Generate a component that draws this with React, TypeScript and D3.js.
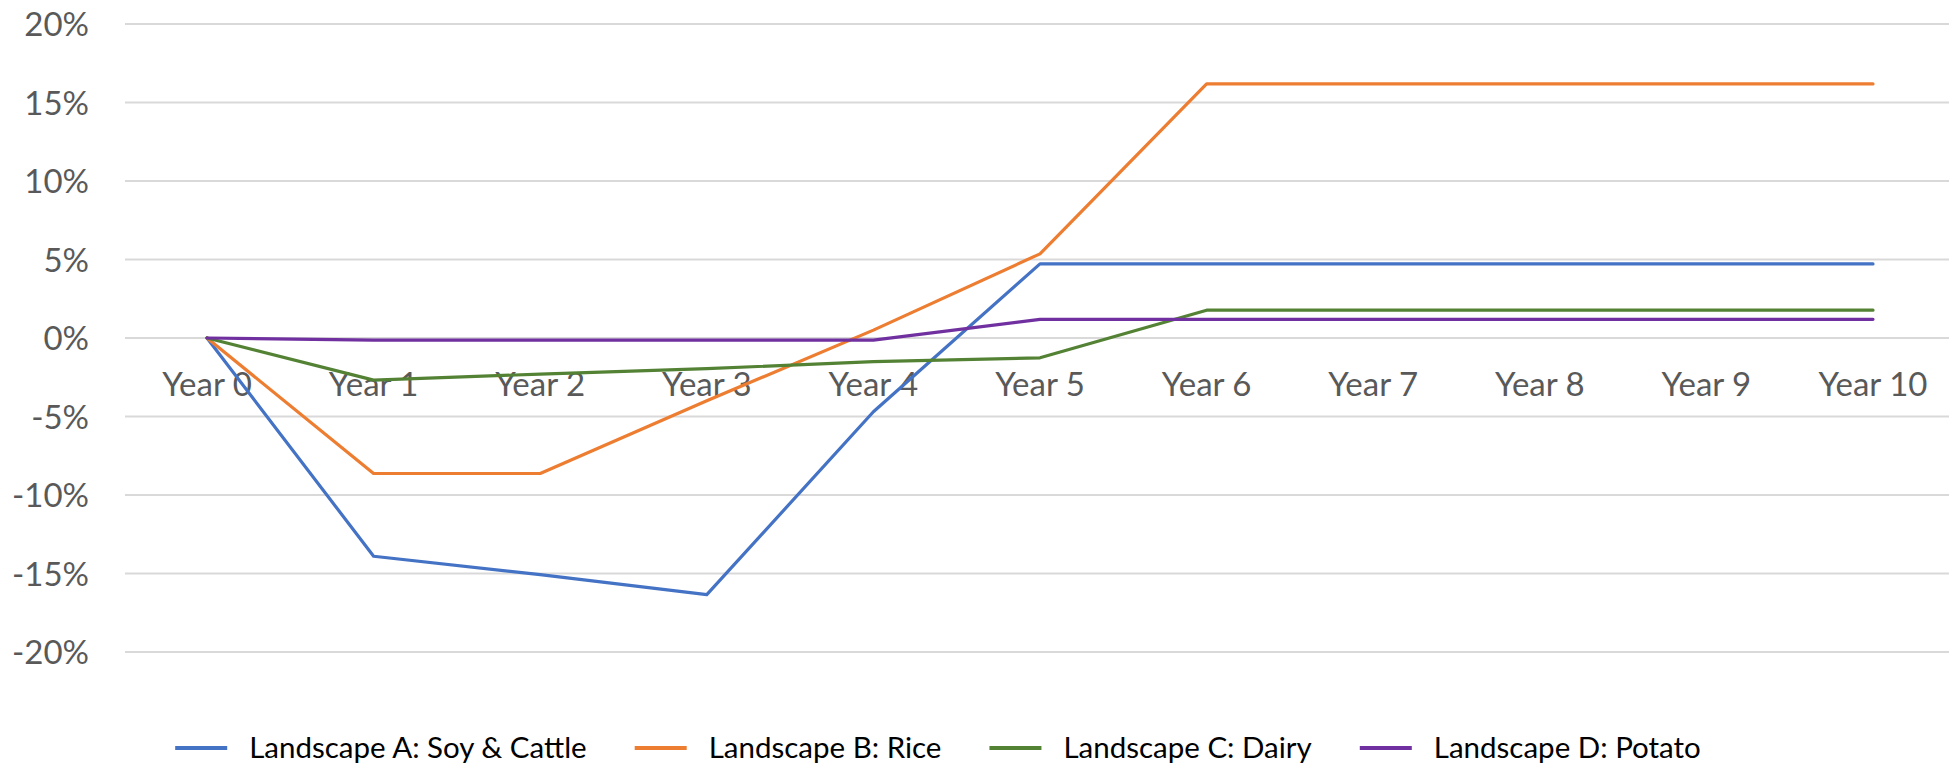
import { useEffect, useRef } from "react"
import * as d3 from "d3"

const categories = ["Year 0", "Year 1", "Year 2", "Year 3", "Year 4", "Year 5", "Year 6", "Year 7", "Year 8", "Year 9", "Year 10"]

const soyCattle = [0, -13.9, -15.07, -16.35, -4.7, 4.72, 4.72, 4.72, 4.72, 4.72, 4.72]
const rice = [0, -8.63, -8.63, -4.0, 0.5, 5.36, 16.18, 16.18, 16.18, 16.18, 16.18]
const dairy = [0, -2.68, -2.3, -1.95, -1.51, -1.26, 1.77, 1.77, 1.77, 1.77, 1.77]
const potato = [0, -0.13, -0.13, -0.13, -0.13, 1.19, 1.19, 1.19, 1.19, 1.19, 1.19]

const seriesNames = ["Landscape A: Soy & Cattle", "Landscape B: Rice", "Landscape C: Dairy", "Landscape D: Potato"]
const seriesColors = ["#4472C4", "#ED7D31", "#548235", "#7030A0"]

const yTicks = [-20, -15, -10, -5, 0, 5, 10, 15, 20]

export default function App() {
  const svgRef = useRef<SVGSVGElement>(null)

  useEffect(() => {
    if (!svgRef.current) return
    const width = 1949
    const font = "Lato, 'Open Sans', sans-serif"

    const svg = d3.select(svgRef.current)
    svg.selectAll("*").remove()

    // plot area
    const x = d3.scalePoint<string>().domain(categories).range([207, 1873])
    const y = d3.scaleLinear().domain([-20, 20]).range([652, 24])

    // gridlines
    svg
      .append("g")
      .selectAll("line")
      .data(yTicks)
      .join("line")
      .attr("x1", 125)
      .attr("x2", width)
      .attr("y1", (d) => y(d))
      .attr("y2", (d) => y(d))
      .attr("stroke", "#d9d9d9")
      .attr("stroke-width", 2)

    // y labels
    svg
      .append("g")
      .selectAll("text")
      .data(yTicks)
      .join("text")
      .attr("x", 89)
      .attr("y", (d) => y(d) + 12)
      .attr("text-anchor", "end")
      .style("font-family", font)
      .style("font-size", "33px")
      .style("fill", "#595959")
      .text((d) => `${d}%`)

    // x labels (axis crosses at 0)
    svg
      .append("g")
      .selectAll("text")
      .data(categories)
      .join("text")
      .attr("x", (d) => x(d) as number)
      .attr("y", y(0) + 58)
      .attr("text-anchor", "middle")
      .style("font-family", font)
      .style("font-size", "33px")
      .style("fill", "#595959")
      .text((d) => d)

    // lines
    const series = [soyCattle, rice, dairy, potato]
    const line = d3
      .line<number>()
      .x((_, i) => x(categories[i]) as number)
      .y((d) => y(d))

    series.forEach((values, i) => {
      svg
        .append("path")
        .datum(values)
        .attr("d", line)
        .attr("fill", "none")
        .attr("stroke", seriesColors[i])
        .attr("stroke-width", 3.2)
        .attr("stroke-linejoin", "round")
        .attr("stroke-linecap", "round")
    })

    // legend
    const legend = svg.append("g")
    const sampleW = 52
    const sampleGap = 22
    const itemGap = 48
    let cursor = 0
    seriesNames.forEach((name, i) => {
      const g = legend.append("g")
      g.append("line")
        .attr("x1", 0)
        .attr("x2", sampleW)
        .attr("y1", 0)
        .attr("y2", 0)
        .attr("stroke", seriesColors[i])
        .attr("stroke-width", 4)
      const t = g
        .append("text")
        .attr("x", sampleW + sampleGap)
        .attr("y", 10)
        .style("font-family", font)
        .style("font-size", "29.5px")
        .style("fill", "#000")
        .text(name)
      const w = sampleW + sampleGap + (t.node() as SVGTextElement).getComputedTextLength()
      g.attr("transform", `translate(${cursor},0)`)
      cursor += w + itemGap
    })
    const total = cursor - itemGap
    legend.attr("transform", `translate(${938 - total / 2}, 748)`)
  }, [])

  return (
    <div style={{ position: "absolute", left: 0, top: 0, background: "#fff" }}>
      <svg ref={svgRef} width={1949} height={765} style={{ display: "block" }}></svg>
    </div>
  )
}
